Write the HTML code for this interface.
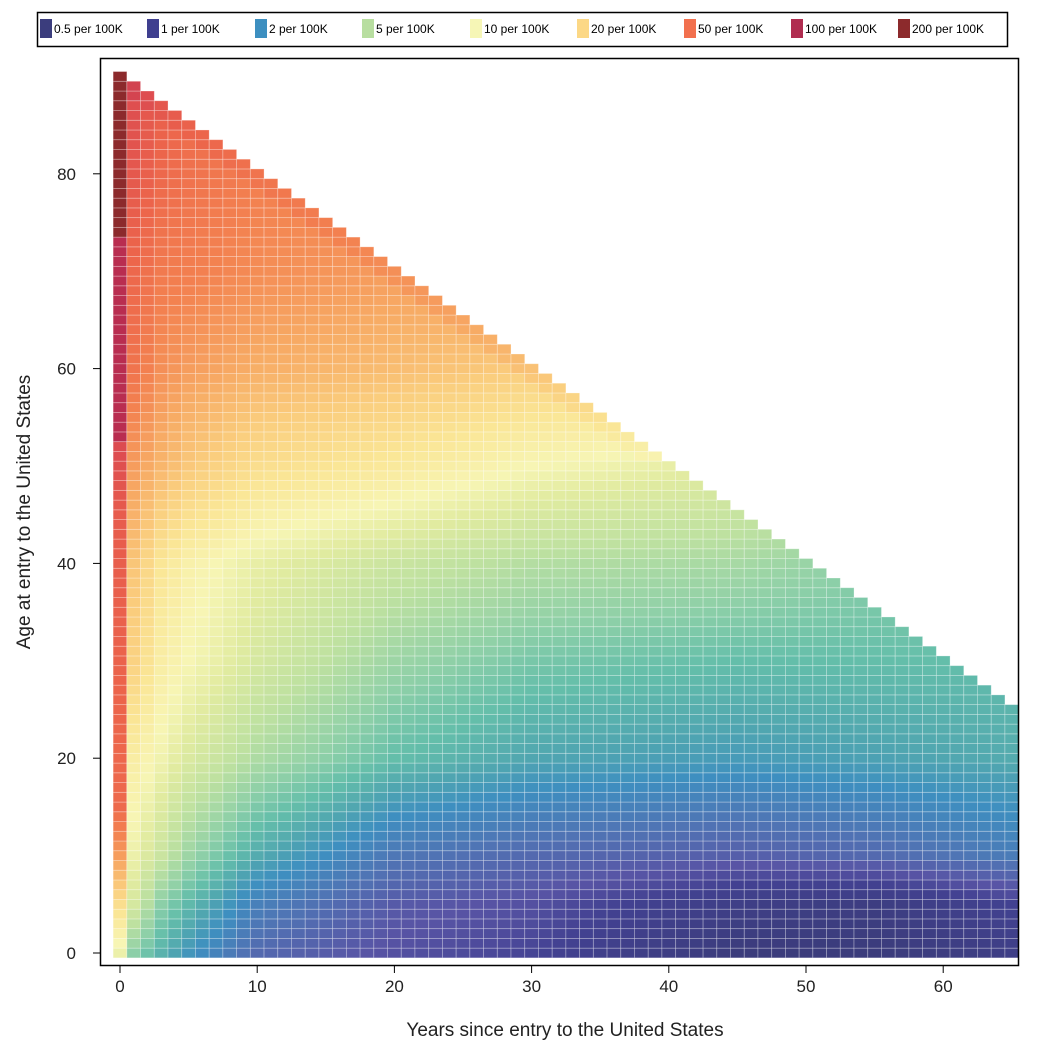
<!DOCTYPE html>
<html><head><meta charset="utf-8"><style>
body{margin:0;background:#fff;font-family:"Liberation Sans",Arial,sans-serif}
svg text{font-family:"Liberation Sans",Arial,sans-serif}
</style></head><body>
<svg id="s" width="1047" height="1050" xmlns="http://www.w3.org/2000/svg">
<rect x="37.5" y="12.5" width="970" height="34" fill="#fff" stroke="#000" stroke-width="1.5"/>
<g id="leg" font-size="12"></g>
<g id="cells"></g>
<rect x="100.5" y="58.5" width="918" height="907" fill="none" stroke="#000" stroke-width="1.5"/>
<g id="ax" font-size="17" fill="#222"></g>
<text x="565" y="1036" font-size="19" text-anchor="middle" fill="#222">Years since entry to the United States</text>
<text transform="translate(30,512) rotate(-90)" font-size="19" text-anchor="middle" fill="#222">Age at entry to the United States</text>
</svg>
<script>
var NS="http://www.w3.org/2000/svg";
function el(t,a,p){var e=document.createElementNS(NS,t);for(var k in a)e.setAttribute(k,a[k]);p.appendChild(e);return e;}
var stops=[[-0.3,[59,60,124]],[-0.1,[66,65,145]],[0,[88,84,165]],[0.15,[80,115,180]],[0.3,[62,143,192]],[0.4,[80,166,176]],[0.5,[100,190,170]],[0.6,[140,207,168]],[0.75,[190,225,160]],[0.9,[225,235,160]],[1.0,[247,245,180]],[1.15,[250,230,150]],[1.3,[250,205,125]],[1.45,[247,170,100]],[1.6,[243,130,80]],[1.75,[236,100,75]],[1.9,[220,75,80]],[2.05,[185,45,80]],[2.3,[140,42,44]]];
function col(v){if(v<=stops[0][0])return rgb(stops[0][1]);for(var i=1;i<stops.length;i++){if(v<=stops[i][0]){var a=stops[i-1],b=stops[i],t=(v-a[0])/(b[0]-a[0]);return rgb([0,1,2].map(function(j){return a[1][j]+(b[1][j]-a[1][j])*t;}));}}return rgb(stops[stops.length-1][1]);}
function rgb(c){return "rgb("+c.map(Math.round).join(",")+")";}
function interp(tab,y){if(y<=tab[0][0])return tab[0][1];for(var i=1;i<tab.length;i++){if(y<=tab[i][0]){var a=tab[i-1],b=tab[i],t=(y-a[0])/(b[0]-a[0]);return a[1]+(b[1]-a[1])*t;}}return tab[tab.length-1][1];}
var XS=[1,3,5,10,20,30,45,55,65];
var YS=[0,5,10,20,30,40,50,60,70,80,90];
var G=[
[0.6,0.45,0.33,0.1,-0.02,-0.08,-0.3,-0.3,-0.2],
[0.85,0.6,0.48,0.22,0.03,-0.02,-0.2,-0.25,-0.1],
[0.95,0.8,0.65,0.42,0.17,0.1,0.05,0.1,0.2],
[1.08,0.97,0.87,0.7,0.5,0.4,0.35,0.38,0.42],
[1.27,1.08,1.0,0.85,0.65,0.55,0.5,0.5,0.5],
[1.33,1.15,1.05,0.93,0.8,0.72,0.68,0.6,0.6],
[1.5,1.4,1.32,1.2,1.12,1.0,0.9,0.9,0.9],
[1.67,1.55,1.5,1.43,1.37,1.3,1.3,1.3,1.3],
[1.73,1.64,1.62,1.56,1.5,1.5,1.5,1.5,1.5],
[1.82,1.73,1.68,1.62,1.6,1.6,1.6,1.6,1.6],
[1.9,1.8,1.75,1.7,1.7,1.7,1.7,1.7,1.7]];
function val(x,y){var rows=YS.map(function(yy,i){return [yy,interp(XS.map(function(xx,j){return [xx,G[i][j]];}),x)];});return interp(rows,y);}
var C0=[[0,0.95],[5,1.2],[10,1.5],[15,1.72],[45,1.8],[52,1.9],[53,2.05],[73,2.05],[74,2.3],[90,2.3]];
var g=document.getElementById("cells");
var sx=13.72,sy=9.74,x0=120,y0=953;
for(var x=0;x<=65;x++){for(var y=0;y<=90-x;y++){
 var v=x==0?interp(C0,y):val(x,y);
 if(x>0&&x+y>=89&&y>50)v+=0.05;
 el("rect",{x:(x0+(x-0.5)*sx).toFixed(2),y:(y0-(y+0.5)*sy).toFixed(2),width:sx.toFixed(2),height:sy.toFixed(2),fill:col(v),stroke:"rgba(255,255,255,0.35)","stroke-width":"0.8"},g);
}}
var lg=document.getElementById("leg");
var labs=["0.5","1","2","5","10","20","50","100","200"],lx=[40,147,255,362,470,577,684,791,898];
var lc=["#3b3d7d","#3f3f8f","#3d8fc0","#b8dea0","#f6f6b6","#fcd886","#f2704e","#b02d50","#8c2a2c"];
for(var i=0;i<9;i++){el("rect",{x:lx[i],y:19,width:12,height:19,fill:lc[i]},lg);var t=el("text",{x:lx[i]+14,y:33},lg);t.textContent=labs[i]+" per 100K";}
var ax=document.getElementById("ax");
[0,10,20,30,40,50,60].forEach(function(v){var px=x0+v*sx;el("line",{x1:px,x2:px,y1:966,y2:973,stroke:"#000"},ax);var t=el("text",{x:px,y:992,"text-anchor":"middle"},ax);t.textContent=v;});
[0,20,40,60,80].forEach(function(v){var py=y0-v*sy;el("line",{x1:93,x2:100,y1:py,y2:py,stroke:"#000"},ax);var t=el("text",{x:76,y:py+6,"text-anchor":"end"},ax);t.textContent=v;});
</script>
</body></html>
